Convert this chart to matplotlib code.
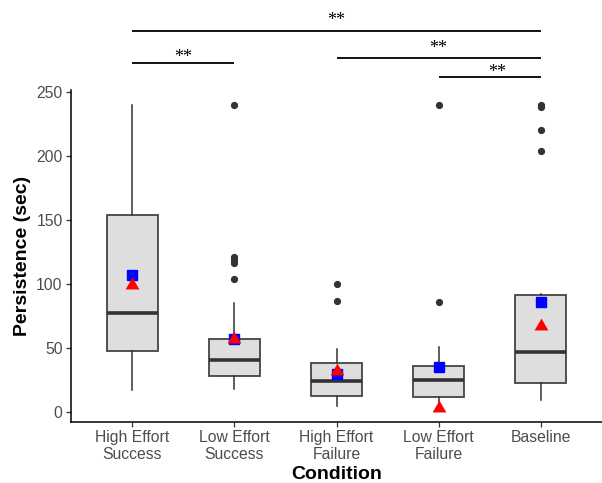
import matplotlib
matplotlib.use("Agg")
import matplotlib.pyplot as plt

# ---- data ----
categories = ["High Effort\nSuccess", "Low Effort\nSuccess", "High Effort\nFailure",
              "Low Effort\nFailure", "Baseline"]
q1 = [48, 28, 12.5, 12, 23]
median = [77, 41, 24, 25, 47]
q3 = [154, 57, 38.5, 36, 91.5]
whisker_low = [17, 18, 5, 2, 9]
whisker_high = [240, 85, 49.5, 50.5, 92]
outliers = [[], [240, 121, 119, 116, 104], [100, 87], [240, 86], [240, 238, 220, 204]]
square_vals = [107, 57, 30, 35, 86]
triangle_vals = [99, 57, 32, 3, 67]

# significance comparisons (group index pairs), labels
comparisons = [(0, 4), (0, 1), (2, 4), (3, 4)]
sig_labels = ["**", "**", "**", "**"]

yticks = [0, 50, 100, 150, 200, 250]

# ---- layout of annotations (positions, not data) ----
bar_heights = [297.5, 272.5, 276.5, 262]
label_heights = [299.5, 270.4, 276.9, 258.2]
label_x = [3.0, 1.5, 4.0, 4.57]

# ---- figure ----
plt.rcParams['font.family'] = ['Liberation Sans', 'DejaVu Sans']
fig = plt.figure(figsize=(6.02, 4.83), dpi=100)
ax = fig.add_axes([71/602, (483-422)/483, 531/602, (422-90)/483])

stats = []
for i in range(len(categories)):
    stats.append(dict(med=median[i], q1=q1[i], q3=q3[i],
                      whislo=whisker_low[i], whishi=whisker_high[i],
                      fliers=outliers[i]))
positions = list(range(1, len(categories) + 1))
ax.bxp(stats, positions=positions, widths=0.5, patch_artist=True, showcaps=False,
       boxprops=dict(facecolor="#DEDEDE", edgecolor="#444444", linewidth=1.3),
       medianprops=dict(color="#333333", linewidth=2.6),
       whiskerprops=dict(color="#333333", linewidth=1.1),
       flierprops=dict(marker="o", markerfacecolor="#333333", markeredgecolor="#333333",
                       markersize=4.2, linestyle="none"))

tri = [(0, 1), (-0.866, -0.5), (0.866, -0.5), (0, 1)]
ax.plot(positions, square_vals, linestyle="none", marker="s", markersize=7.8,
        color="#0000FF", zorder=5)
ax.plot(positions, triangle_vals, linestyle="none", marker=tri, markersize=11.4,
        color="#FF0000", markeredgewidth=0, zorder=6)

ax.set_xlim(0.4, 5.6)
ax.set_ylim(-7.8, 251.5)
ax.set_xticks(positions)
ax.set_xticklabels(categories, color="#4D4D4D", fontsize=11.3, linespacing=1.15)
ax.set_yticks(yticks)
ax.set_yticklabels([str(v) for v in yticks], color="#4D4D4D", fontsize=11.3)
ax.tick_params(axis="both", length=3.5, width=0.9, color="#333333", pad=2.5)

for s in ["top", "right"]:
    ax.spines[s].set_visible(False)
for s in ["left", "bottom"]:
    ax.spines[s].set_linewidth(1.1)
    ax.spines[s].set_color("black")

ax.set_xlabel("Condition", fontsize=14, fontweight="bold", labelpad=2.5)
ax.set_ylabel("Persistence (sec)", fontsize=14, fontweight="bold", labelpad=4)

# significance bars
for (a, b), lab, h, lh, lx in zip(comparisons, sig_labels, bar_heights,
                                  label_heights, label_x):
    x1, x2 = positions[a], positions[b]
    ax.plot([x1, x2], [h, h], color="black", linewidth=1.3, clip_on=False,
            solid_capstyle="butt")
    ax.text(lx, lh, lab, ha="center", va="bottom",
            family=["Liberation Serif", "DejaVu Serif"], fontsize=13, clip_on=False)

fig.savefig("out.png", dpi=100)
